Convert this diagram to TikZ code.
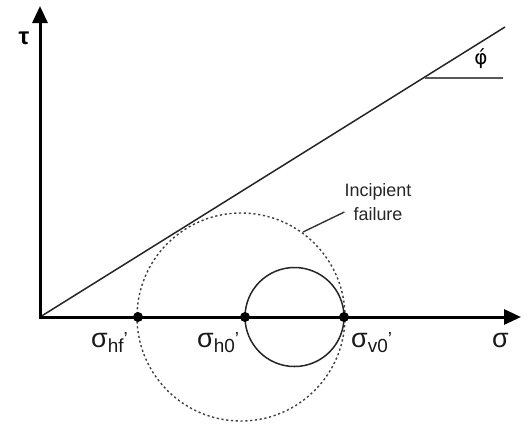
\documentclass[tikz,border=0pt]{standalone}
\usepackage{fontspec}
\setmainfont{Liberation Sans}
\newfontfamily\dvfont{DejaVu Sans}
\usetikzlibrary{arrows.meta}
\newcommand{\bigsig}{{\fontsize{27}{30}\selectfont σ}}
\newcommand{\lowsub}[1]{\raisebox{-5bp}{\fontsize{19}{20}\selectfont #1}}
\newcommand{\hiprime}{\raisebox{1.5bp}{\fontsize{19}{20}\selectfont ’}}
\begin{document}
\begin{tikzpicture}[x=1bp,y=-1bp,
  axis/.style={line width=3bp,-{Triangle[length=17bp,width=15bp]}},
  thin line/.style={line width=1.5bp,black!85},
  dotline/.style={line width=1.4bp,black!75,dash pattern=on 2.2bp off 2.6bp},
  pt/.style={circle,fill=black,inner sep=0,minimum size=10bp},
  lab/.style={anchor=base west,inner sep=0,text=black!90},
  note/.style={align=center,inner sep=0,font=\fontsize{18}{24}\selectfont,text=black!85}]
\useasboundingbox (0,0) rectangle (531,423);
% coordinates
\coordinate (O) at (40,317);
\coordinate (ytop) at (40,6);
\coordinate (xend) at (521,317);
\coordinate (fend) at (505,27);
\coordinate (phiA) at (425,78);
\coordinate (phiB) at (503,78);
\coordinate (cs) at (294.5,317);
\coordinate (cd) at (241,317);
\coordinate (lead1) at (303,232);
% failure envelope
\draw[thin line] (O) -- (fend);
\draw[line width=1.5bp,black!65] (phiA) -- (phiB);
% circles
\draw[dotline] (cd) circle[radius=104bp];
\draw[thin line] (cs) circle[radius=49.5bp];
% axes
\draw[axis] (O) -- (ytop);
\draw[axis] ([xshift=-1.5bp]O) -- (xend);
% points
\node[pt] (phf) at (138,317) {};
\node[pt] (ph0) at (245,317) {};
\node[pt] (pv0) at (344,317) {};
% labels
\node[anchor=center,inner sep=0,font=\fontsize{24}{26}\selectfont\bfseries] (tau) at (24,38) {τ};
\node[lab] (lsig) at (492,347) {\bigsig};
\node[lab] (lhf) at (91,347) {\bigsig\lowsub{hf}\hiprime};
\node[lab] (lh0) at (197,347) {\bigsig\lowsub{h0}\hiprime};
\node[lab] (lv0) at (351,347) {\bigsig\lowsub{v0}\hiprime};
\node[inner sep=0,font=\dvfont\fontsize{20}{22}\selectfont] (phi) at (481,59) {φ́};
\node[note] (inc) at (378,202) {Incipient\\failure};
\draw[line width=1.4bp,black!80] (lead1) -- (inc.west |- 0,212) ++(-1,0);
\end{tikzpicture}
\end{document}
